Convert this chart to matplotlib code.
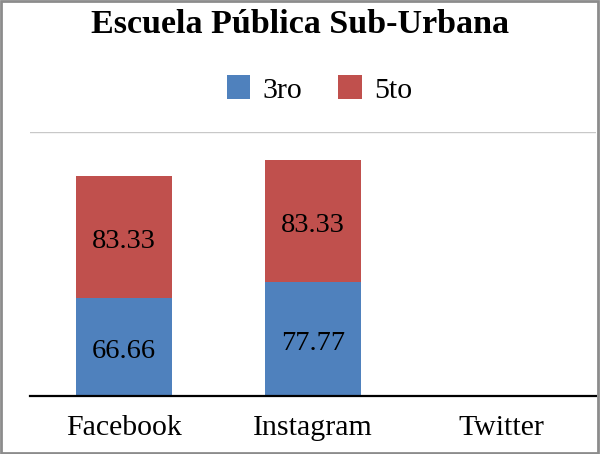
import matplotlib
matplotlib.use("Agg")
import matplotlib.pyplot as plt
from matplotlib.patches import Rectangle

# datos
redes = ["Facebook", "Instagram", "Twitter"]
tercero = [66.66, 77.77, 0]
quinto = [83.33, 83.33, 0]

plt.rcParams['font.family'] = ['Liberation Serif', 'DejaVu Serif']

fig = plt.figure(figsize=(6, 4.54), dpi=100)
ax = fig.add_axes([0.05, 0.1278, 0.943, 0.581])

x = range(len(redes))
b1 = ax.bar(x, tercero, width=0.51, color="#4F81BD", label="3ro")
b2 = ax.bar(x, quinto, width=0.51, bottom=tercero, color="#C0504D", label="5to")

# etiquetas de datos
for i in x:
    if tercero[i] > 0:
        ax.annotate(f"{tercero[i]:.2f}", (i, tercero[i] / 2), xytext=(0, -3),
                    textcoords="offset points", ha="center", va="center", fontsize=20.5)
    if quinto[i] > 0:
        ax.annotate(f"{quinto[i]:.2f}", (i, tercero[i] + quinto[i] / 2), xytext=(0, -3),
                    textcoords="offset points", ha="center", va="center", fontsize=20.5)

ax.set_ylim(0, 180)
ax.set_xlim(-0.5, 2.5)
ax.axhline(180, color="#c8c8c8", lw=1)
ax.set_yticks([])
ax.set_xticks(list(x))
ax.set_xticklabels(redes, fontsize=21.5)
ax.tick_params(axis="x", length=0, pad=14)
for s in ["top", "right", "left"]:
    ax.spines[s].set_visible(False)
ax.spines["bottom"].set_linewidth(1.6)
ax.spines["bottom"].set_color("black")

fig.text(0.5, 0.947, "Escuela Pública Sub-Urbana", ha="center", va="center",
         fontsize=24.5, fontweight="bold")
fig.legend(handles=[b1, b2], loc="center", bbox_to_anchor=(0.532, 0.803), ncol=2,
           frameon=False, fontsize=21.5, handlelength=0.8, handleheight=0.85,
           columnspacing=1.2, handletextpad=0.4)

# borde exterior
fig.patches.append(Rectangle((0.002, 0.003), 0.994, 0.994, transform=fig.transFigure,
                             fill=False, edgecolor="#8c8c8c", lw=2))

fig.savefig("out.png", dpi=100)
